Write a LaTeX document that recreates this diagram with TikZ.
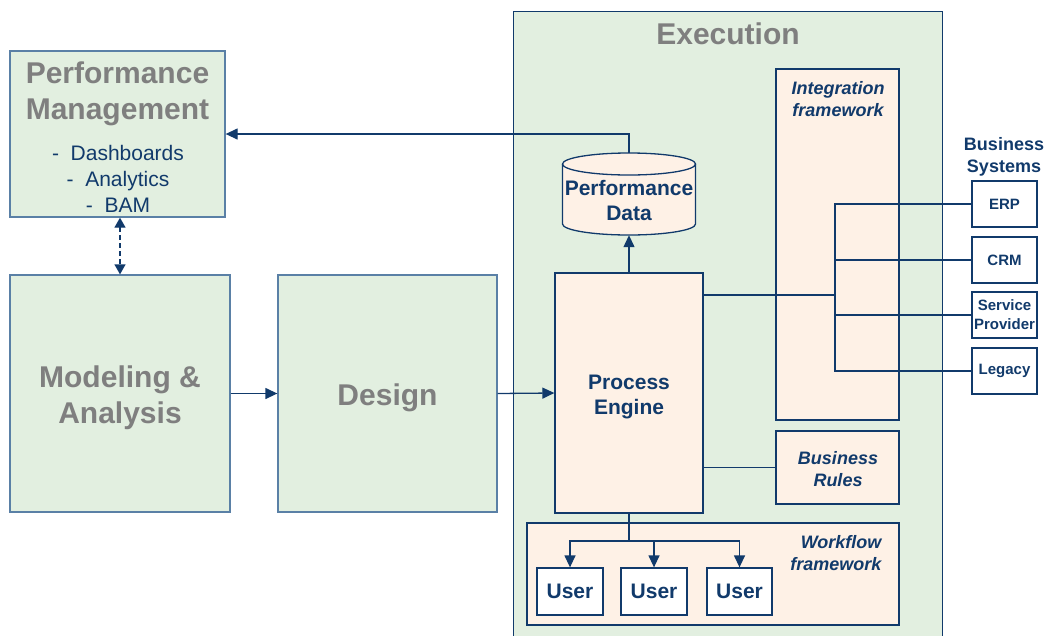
\documentclass[tikz,border=0pt]{standalone}
\usepackage{fontspec}
\setmainfont{Liberation Sans}
\usetikzlibrary{arrows.meta}
\definecolor{navy}{HTML}{113A6B}
\definecolor{edgeblue}{HTML}{5A80A6}
\definecolor{greenfill}{HTML}{E2EFE0}
\definecolor{beigefill}{HTML}{FEF1E6}
\definecolor{titlegray}{HTML}{7F7F7F}
\newcommand*{\ttlfont }{\fontsize{30}{36}\selectfont\bfseries}
\newcommand*{\boxfont }{\fontsize{21}{25}\selectfont\bfseries}
\newcommand*{\listfont}{\fontsize{21}{26}\selectfont}
\newcommand*{\hdrfont }{\fontsize{18}{22}\selectfont\bfseries}
\newcommand*{\tagfont }{\fontsize{18}{21.5}\selectfont\bfseries\itshape}
\newcommand*{\sysfont }{\fontsize{15}{19}\selectfont\bfseries}
\begin{document}
\begin{tikzpicture}[x=1pt, y=-1pt,
    greenbox/.style = {draw=edgeblue, fill=greenfill, line width=1.3pt, inner sep=0pt},
    beigebox/.style = {draw=navy, fill=beigefill, line width=1.3pt, inner sep=0pt,
                       text=navy, align=center},
    whitebox/.style = {draw=navy, fill=white, line width=1.3pt, inner sep=0pt,
                       text=navy, align=center},
    ttl/.style      = {text=titlegray, font=\ttlfont, align=center},
    tag/.style      = {text=navy, font=\tagfont},
    link/.style     = {draw=navy, line width=1.3pt},
    arr/.style      = {link, -{Triangle[length=12pt, width=11pt]}}]
    \path [use as bounding box, clip] (0,0) rectangle (1048,635);

    % execution area, runs off the bottom edge
    \node [draw=navy, fill=greenfill, line width=1.3pt, inner sep=0pt, anchor=north west,
           minimum width=429pt, minimum height=640pt] (exec) at (513,11) {};
    \node [ttl] (exectitle) at (728,34) {Execution};

    % left hand side
    \node [greenbox, minimum width=215pt, minimum height=166pt] (perfmgmt) at (117.5,134) {};
    \node [ttl] (pmtitle) at (117.5,93.5) {Performance\\Management};
    \node [text=navy, font=\listfont, align=center] (pmlist) at (118,178.5)
          {-\ \ Dashboards\\-\ \ Analytics\\-\ \ BAM};
    \node [greenbox, minimum width=220pt, minimum height=237pt] (modeling) at (120,393.5) {};
    \node [ttl] (modeltext) at (120,398) {Modeling \&\\Analysis};
    \node [greenbox, minimum width=219pt, minimum height=237pt] (design) at (387.5,393.5) {};
    \node [ttl] (designtext) at (387.5,397.5) {Design};

    % frameworks
    \node [beigebox, minimum width=123pt, minimum height=351pt] (integ) at (837.5,244.5) {};
    \node [tag, align=center] (integtitle) at (838,99) {Integration\\framework};
    \node [beigebox, minimum width=123pt, minimum height=73pt] (rules) at (837.5,467.5) {};
    \node [tag, align=center] (rulestext) at (838,469) {Business\\Rules};
    \node [beigebox, minimum width=372pt, minimum height=102pt] (workflow) at (713,574) {};
    \node [tag, align=right, anchor=east] (wftitle) at (885,553) {Workflow\\framework};

    % engine and data store
    \node [beigebox, minimum width=148pt, minimum height=240pt] (engine) at (629,393) {};
    \node [text=navy, font=\boxfont, align=center] (enginetext) at (629,397) {Process\\Engine};
    \node [inner sep=0pt, minimum width=133pt, minimum height=82pt] (perfdata) at (629,194) {};
    \draw [navy, fill=beigefill, line width=1.3pt] (562.5,164) -- (562.5,224)
          arc [start angle=180, end angle=0, x radius=66.5, y radius=11] -- (695.5,164);
    \draw [navy, fill=beigefill, line width=1.3pt] (629,164) ellipse [x radius=66.5, y radius=11];
    \node [text=navy, font=\boxfont, align=center] (pdtext) at (629,200.5) {Performance\\Data};

    % users
    \node [whitebox, font=\boxfont, minimum width=66pt, minimum height=47pt] (user1) at (570,591.5) {User};
    \node [whitebox, font=\boxfont, minimum width=66pt, minimum height=47pt] (user2) at (654,591.5) {User};
    \node [whitebox, font=\boxfont, minimum width=65pt, minimum height=47pt] (user3) at (739.5,591.5) {User};

    % business systems
    \node [text=navy, font=\hdrfont, align=center] (systitle) at (1004,156.5) {Business\\Systems};
    \node [whitebox, font=\sysfont, minimum width=65pt, minimum height=46pt] (erp)      at (1004.5,204) {ERP};
    \node [whitebox, font=\sysfont, minimum width=65pt, minimum height=46pt] (crm)      at (1004.5,260) {CRM};
    \node [whitebox, font=\sysfont, minimum width=65pt, minimum height=46pt] (provider) at (1004.5,315) {Service\\Provider};
    \node [whitebox, font=\sysfont, minimum width=65pt, minimum height=46pt] (legacy)   at (1004.5,371) {Legacy};

    % connectors
    \coordinate (hub)  at (835,295);
    \coordinate (fork) at (629,541);
    \draw [arr] (perfdata.north) |- (perfmgmt.east);
    \draw [arr] (engine.north) -- (perfdata.south);
    \draw [link, dash pattern=on 5pt off 3pt,
           {Triangle[length=10pt, width=11pt]}-{Triangle[length=10pt, width=11pt]}]
          (perfmgmt.south -| modeling.north) -- (modeling.north);
    \draw [arr] (modeling.east) -- (design.west);
    \draw [arr] (design.east) -- (engine.west);
    \draw [link, line width=2.2pt] (engine.east |- hub) -- (hub);
    \draw [link] (erp.west) -| (hub) |- (legacy.west);
    \draw [link] (crm.west) -- (crm.west -| hub);
    \draw [link] (provider.west) -- (provider.west -| hub);
    \draw [link] (engine.east |- rules.west) -- (rules.west);
    \draw [link] (engine.south) -- (fork);
    \draw [arr] (fork) -| (user1.north);
    \draw [arr] (fork) -| (user2.north);
    \draw [arr] (fork) -| (user3.north);
\end{tikzpicture}
\end{document}
